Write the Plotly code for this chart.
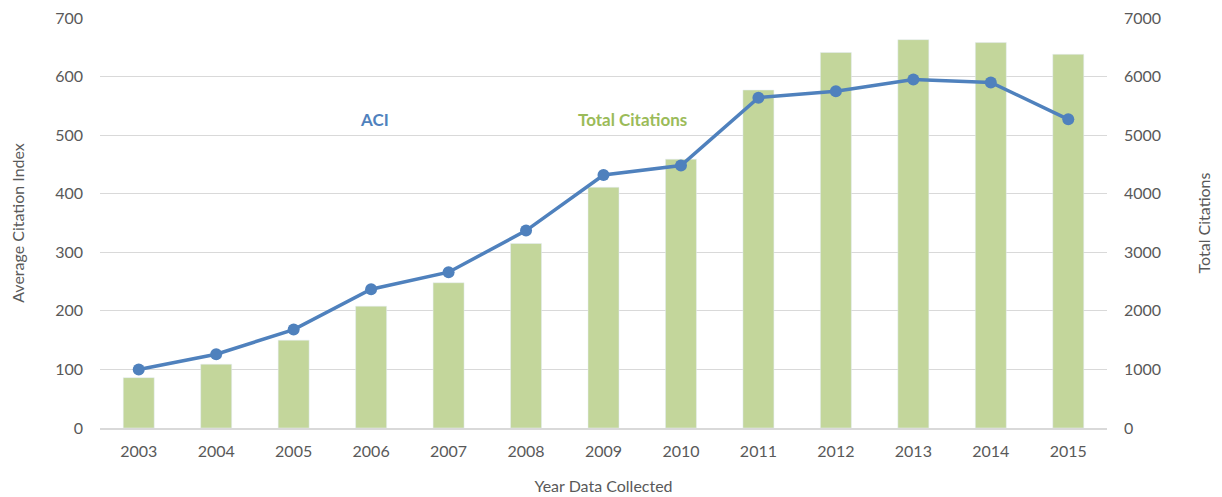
import plotly.graph_objects as go

years = ["2003", "2004", "2005", "2006", "2007", "2008", "2009", "2010", "2011", "2012", "2013", "2014", "2015"]
total_citations = [860, 1090, 1500, 2080, 2480, 3150, 4110, 4590, 5770, 6410, 6630, 6580, 6380]
aci = [100, 126, 168, 237, 266, 337, 432, 448, 564, 575, 595, 590, 527]

gray = "#595959"
font_family = "Lato, 'Open Sans', sans-serif"

fig = go.Figure()
fig.add_trace(go.Bar(x=years, y=total_citations, yaxis="y", marker=dict(color="#C3D69B"),
                     name="Total Citations"))
fig.add_trace(go.Scatter(x=years, y=aci, mode="lines+markers", name="ACI", yaxis="y2",
                         line=dict(color="#4F81BD", width=3.5),
                         marker=dict(color="#4F81BD", size=12)))

fig.update_layout(
    width=1222, height=497,
    margin=dict(l=92, r=123, t=10, b=77),
    plot_bgcolor="white", paper_bgcolor="white",
    showlegend=False, bargap=0.6,
    font=dict(family=font_family, size=16, color=gray),
    xaxis=dict(title=dict(text="Year Data Collected", font=dict(size=16, color=gray), standoff=22),
               automargin=False, range=[-0.5, len(years) - 0.5],
               showgrid=False, showline=True, linecolor="#D9D9D9", linewidth=2,
               tickfont=dict(size=16, color=gray), ticks="", ticklen=0, ticklabelstandoff=8),
    yaxis=dict(title=dict(text="Total Citations", font=dict(size=16, color=gray), standoff=38),
               automargin=False, side="right", ticklabeloverflow="allow",
               range=[0, 7000], dtick=1000, showgrid=True, gridcolor="#D9D9D9", gridwidth=1.2,
               zeroline=False, tickfont=dict(size=16, color=gray), ticks="", ticklabelstandoff=16),
    yaxis2=dict(title=dict(text="Average Citation Index", font=dict(size=16, color=gray), standoff=41),
                automargin=False, side="left", overlaying="y", ticklabeloverflow="allow",
                range=[0, 700], dtick=100, showgrid=False,
                zeroline=False, tickfont=dict(size=16, color=gray), ticklabelstandoff=16),
    annotations=[
        dict(text="<b>ACI</b>", x=3.04, y=526, xref="x", yref="y2", showarrow=False,
             font=dict(size=17, color="#4F81BD", family=font_family)),
        dict(text="<b>Total Citations</b>", x=6.37, y=526, xref="x", yref="y2", showarrow=False,
             font=dict(size=17, color="#9BBB59", family=font_family)),
    ],
)

fig.write_html("out.html")
